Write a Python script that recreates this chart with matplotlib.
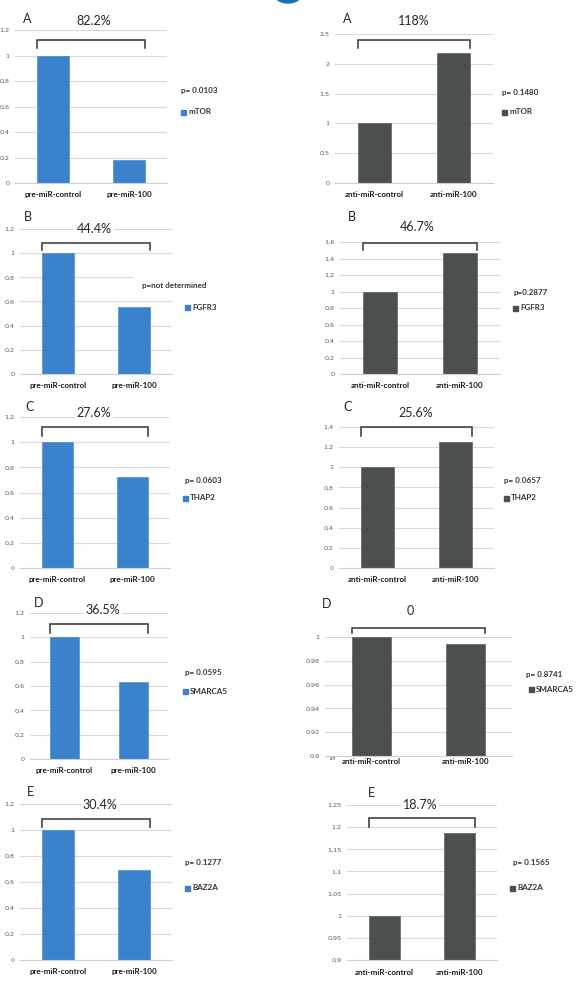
"""Relative expression of miR-100 targets after pre-miR / anti-miR transfection
(panels A-E, two columns)."""
import numpy as np
import matplotlib
matplotlib.use('Agg')
import matplotlib.pyplot as plt
import matplotlib.transforms as mtransforms
from matplotlib.patches import Rectangle, Ellipse
from matplotlib.ticker import FuncFormatter

plt.rcParams['font.family'] = ['Lato', 'DejaVu Sans']

# ---- data ----
genes = ['mTOR', 'FGFR3', 'THAP2', 'SMARCA5', 'BAZ2A']
letters = ['A', 'B', 'C', 'D', 'E']
pre_labels = ['pre-miR-control', 'pre-miR-100']
anti_labels = ['anti-miR-control', 'anti-miR-100']
pre_values = [[1, 0.178], [1, 0.556], [1, 0.724], [1, 0.635], [1, 0.696]]
anti_values = [[1, 2.18], [1, 1.467], [1, 1.256], [1, 0.994], [1, 1.187]]
pre_change = ['82.2%', '44.4%', '27.6%', '36.5%', '30.4%']
anti_change = ['118%', '46.7%', '25.6%', '0', '18.7%']
pre_p = ['p= 0.0103', 'p=not determined', 'p= 0.0603', 'p= 0.0595', 'p= 0.1277']
anti_p = ['p= 0.1480', 'p=0.2877', 'p= 0.0657', 'p= 0.8741', 'p= 0.1565']
pre_scale = [(0, 1.2, 0.2)] * 5
anti_scale = [(0, 2.5, 0.5), (0, 1.6, 0.2), (0, 1.4, 0.2), (0.9, 1.0, 0.02), (0.9, 1.25, 0.05)]

# ---- layout in pixels (x0, ytop, x1, ybottom) ----
W, H = 577, 981
pre_box = [(15, 30, 167, 183), (20, 229, 172, 374), (20, 417, 170, 568),
           (30, 613, 168, 759), (20, 804, 172, 960)]
anti_box = [(335, 34, 493, 183), (340, 242, 500, 374), (339, 427, 494, 568),
            (325, 637, 512, 756), (347, 805, 497, 960)]
pre_letter = [(27, 19), (28, 217), (30, 407), (39, 603), (30, 792)]
anti_letter = [(347, 19), (352, 217), (348, 407), (327, 604), (371, 793)]
pre_pct = [(94, 21), (94, 229), (94, 413), (103, 610), (100, 805)]
anti_pct = [(414, 21), (417, 227), (416, 413), (410, 611), (420, 805)]
pre_bracket = [(40, 48), (243, 250), (427, 436), (624, 633), (819, 827)]
anti_bracket = [(40, 48), (243, 250), (427, 436), (628, 633), (818, 827)]
pre_ptext = [(181, 90), (142, 286), (185, 480), (185, 673), (185, 863)]
anti_ptext = [(502, 92), (513, 292), (504, 481), (526, 674), (513, 863)]
pre_leg = [(181, 112), (185, 307), (183, 498), (183, 691), (185, 888)]
anti_leg = [(502, 112), (513, 308), (504, 498), (529, 689), (510, 888)]
anti_pad = [8, 8, 8, 2, 9]

BLUE = '#3a83cc'
GREY = '#4b504e'


def fx(x):
    return x / W


def fy(y):
    return 1 - y / H


def comma_fmt(v, pos):
    s = ('%.2f' % v).rstrip('0').rstrip('.')
    return s.replace('.', ',')


fig = plt.figure(figsize=(W / 100, H / 100), dpi=100)
fig.patch.set_facecolor('white')


def panel(box, values, labels, scale, color, letter, letter_xy, pct, pct_xy,
          bracket, ptext, ptext_xy, leg_xy, gene, pad, white_p=False):
    x0, y0, x1, y1 = box
    ax = fig.add_axes([fx(x0), fy(y1), (x1 - x0) / W, (y1 - y0) / H])
    lo, hi, step = scale
    ticks = np.round(np.arange(lo, hi + step / 2, step), 3)
    bars = ax.bar(range(len(values)), values, width=0.42, color=color,
                  edgecolor=color, linewidth=0.4, zorder=2)
    ax.set_xlim(-0.5, len(values) - 0.5)
    ax.set_ylim(lo, hi)
    ax.set_yticks(ticks)
    ax.yaxis.set_major_formatter(FuncFormatter(comma_fmt))
    ax.set_xticks(range(len(values)))
    ax.set_xticklabels(labels, fontsize=5.8, fontweight='bold', color='#1a1a1a')
    ax.tick_params(axis='y', length=0, labelsize=4.6, labelcolor='#595959', pad=4)
    for t in ax.get_yticklabels():
        t.set_family('DejaVu Sans')
    ax.tick_params(axis='x', length=0, pad=pad * 0.72)
    ax.grid(axis='y', color='#d9d9d9', linewidth=0.8, zorder=0)
    ax.set_axisbelow(True)
    for s in ['left', 'right', 'top']:
        ax.spines[s].set_visible(False)
    ax.spines['bottom'].set_color('#d0d0d0')
    ax.spines['bottom'].set_linewidth(0.8)

    # bracket spanning both bars
    trans = mtransforms.blended_transform_factory(ax.transData, fig.transFigure)
    xa = bars[0].get_x()
    xb = bars[-1].get_x() + bars[-1].get_width()
    yt, ye = fy(bracket[0]), fy(bracket[1])
    ax.plot([xa, xa, xb, xb], [ye, yt, yt, ye], color='#333333', lw=1.1,
            transform=trans, clip_on=False, zorder=5, solid_joinstyle='miter')

    fig.text(fx(letter_xy[0]), fy(letter_xy[1]), letter, fontsize=9,
             ha='center', va='center', color='#262626')
    fig.text(fx(pct_xy[0]), fy(pct_xy[1]), pct, fontsize=9, ha='center',
             va='center', color='#262626',
             bbox=dict(facecolor='white', edgecolor='none', pad=1.5))
    pbox = dict(facecolor='white', edgecolor='none', pad=6) if white_p else None
    fig.text(fx(ptext_xy[0]), fy(ptext_xy[1]), ptext, fontsize=5.8,
             fontweight='bold', ha='left', va='center', color='#333333', bbox=pbox)
    fig.add_artist(Rectangle((fx(leg_xy[0]), fy(leg_xy[1] + 2.5)), 5 / W, 5 / H,
                             transform=fig.transFigure, color=color))
    fig.text(fx(leg_xy[0] + 7), fy(leg_xy[1]), gene, fontsize=5.8,
             fontweight='bold', ha='left', va='center', color='#333333')
    return ax


for i in range(5):
    panel(pre_box[i], pre_values[i], pre_labels, pre_scale[i], BLUE,
          letters[i], pre_letter[i], pre_change[i], pre_pct[i], pre_bracket[i],
          pre_p[i], pre_ptext[i], pre_leg[i], genes[i], 8,
          white_p=(pre_p[i] == 'p=not determined'))
    panel(anti_box[i], anti_values[i], anti_labels, anti_scale[i], GREY,
          letters[i], anti_letter[i], anti_change[i], anti_pct[i], anti_bracket[i],
          anti_p[i], anti_ptext[i], anti_leg[i], genes[i], anti_pad[i])

# stray label left over in panel D (right)
fig.text(fx(333), fy(759), 'ant', fontsize=3.3, style='italic', color='#666666',
         ha='center', va='center')

# partial logo at the top edge
fig.add_artist(Ellipse((fx(288), fy(-8)), 30 / W, 22 / H,
                       transform=fig.transFigure, color='#1f6fb5'))

fig.savefig('out.png', dpi=100)
